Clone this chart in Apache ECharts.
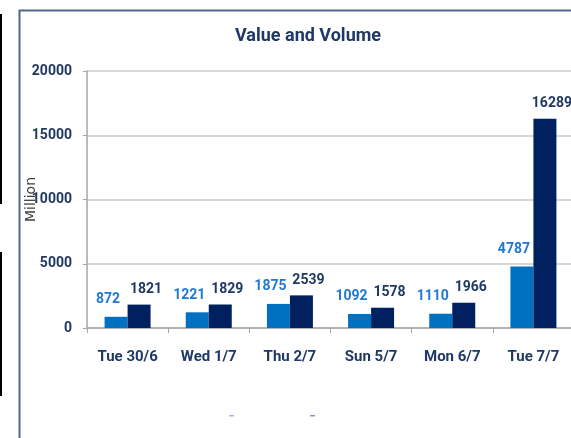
<!DOCTYPE html>
<html>
<head>
<meta charset="utf-8">
<script src="https://cdn.jsdelivr.net/npm/echarts@6/dist/echarts.min.js"></script>
<style>
    html, body { margin: 0; padding: 0; background: #fff; }
    #chart { width: 571px; height: 438px; }
</style>
</head>
<body>
<div id="chart"></div>
<script>
var days = ['Tue 30/6', 'Wed 1/7', 'Thu 2/7', 'Sun 5/7', 'Mon 6/7', 'Tue 7/7'];
var value_data = [872, 1221, 1875, 1092, 1110, 4787];
var volume_data = [1821, 1829, 2539, 1578, 1966, 16289];
var y_ticks = [0, 5000, 10000, 15000, 20000];

var font = 'Roboto';

var myChart = echarts.init(document.getElementById('chart'));
myChart.setOption({
    animation: false,
    title: {
        text: 'Value and Volume',
        left: 230,
        top: 22,
        textStyle: {
            color: '#1f3864',
            fontFamily: font,
            fontWeight: 'bold',
            fontSize: 18
        }
    },
    grid: {
        left: 87,
        right: -3,
        top: 71,
        bottom: 110,
        containLabel: false,
        outerBoundsMode: 'none'
    },
    xAxis: {
        type: 'category',
        data: days,
        axisLine: { lineStyle: { color: '#a6a6a6', width: 1.5 } },
        axisTick: { show: true, length: 5, lineStyle: { color: '#a6a6a6' } },
        axisLabel: {
            interval: 0,
            margin: 22,
            color: '#1f3864',
            fontFamily: font,
            fontWeight: 'bold',
            fontSize: 15
        }
    },
    yAxis: {
        type: 'value',
        min: y_ticks[0],
        max: y_ticks[y_ticks.length - 1],
        interval: y_ticks[1] - y_ticks[0],
        name: 'Million',
        nameLocation: 'middle',
        nameGap: 49,
        nameMoveOverlap: false,
        nameTextStyle: {
            color: '#404040',
            fontFamily: 'DejaVu Sans',
            fontSize: 14
        },
        axisLine: { show: true, lineStyle: { color: '#a6a6a6', width: 1.5 } },
        axisTick: { show: true, length: 4, lineStyle: { color: '#a6a6a6' } },
        splitLine: { lineStyle: { color: '#d9d9d9', width: 2 } },
        axisLabel: {
            margin: 15,
            formatter: function (v) { return String(v); },
            color: '#1f3864',
            fontFamily: font,
            fontWeight: 'bold',
            fontSize: 14
        }
    },
    series: [{
        name: 'Value',
        type: 'bar',
        data: value_data,
        barWidth: 23,
        barGap: '0%',
        itemStyle: { color: '#0070c0' },
        label: {
            show: true,
            position: 'top',
            distance: 10,
            offset: [-8, 0],
            color: '#1f78d1',
            fontFamily: font,
            fontWeight: 'bold',
            fontSize: 14
        }
    }, {
        name: 'Volume',
        type: 'bar',
        data: volume_data,
        barWidth: 23,
        itemStyle: { color: '#002060' },
        label: {
            show: true,
            position: 'top',
            distance: 8,
            offset: [7, 0],
            color: '#1f3864',
            fontFamily: font,
            fontWeight: 'bold',
            fontSize: 14
        }
    }],
    graphic: [{
        // outer frame of the chart area
        type: 'rect',
        silent: true,
        shape: { x: 19.5, y: 10.5, width: 600, height: 500 },
        style: { fill: 'none', stroke: '#4f6790', lineWidth: 2 }
    }, {
        type: 'line',
        silent: true,
        shape: { x1: 1, y1: 14, x2: 1, y2: 204 },
        style: { stroke: '#000', lineWidth: 2 }
    }, {
        type: 'line',
        silent: true,
        shape: { x1: 1, y1: 252, x2: 1, y2: 396 },
        style: { stroke: '#000', lineWidth: 2 }
    }, {
        type: 'rect',
        silent: true,
        shape: { x: 229, y: 415, width: 5, height: 1.5 },
        style: { fill: '#9db9e3' }
    }, {
        type: 'rect',
        silent: true,
        shape: { x: 310, y: 415, width: 5, height: 1.5 },
        style: { fill: '#7f9cc9' }
    }]
});
</script>
</body>
</html>
